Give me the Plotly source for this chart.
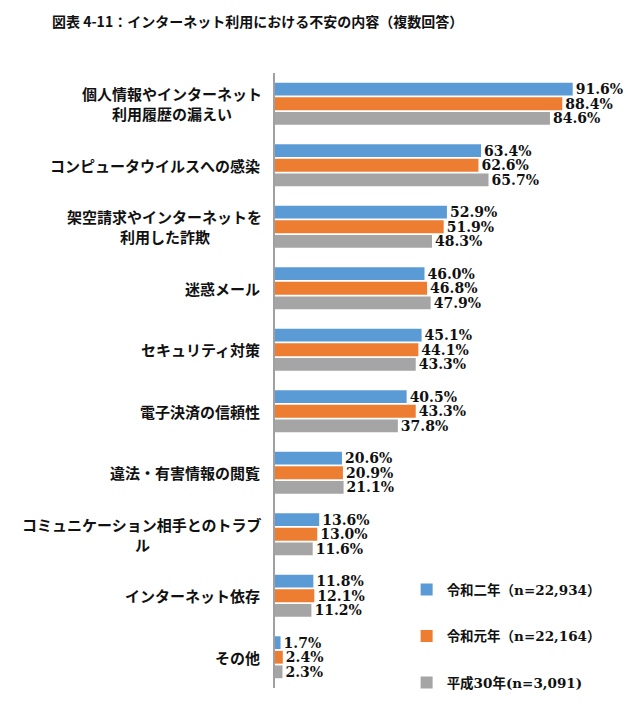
import plotly.graph_objects as go

categories = [
    "個人情報やインターネット<br>利用履歴の漏えい",
    "コンピュータウイルスへの感染",
    "架空請求やインターネットを<br>利用した詐欺",
    "迷惑メール",
    "セキュリティ対策",
    "電子決済の信頼性",
    "違法・有害情報の閲覧",
    "コミュニケーション相手とのトラブ<br>ル",
    "インターネット依存",
    "その他",
]
series_names = ["令和二年（n=22,934）", "令和元年（n=22,164）", "平成30年(n=3,091)"]
r2 = [91.6, 63.4, 52.9, 46.0, 45.1, 40.5, 20.6, 13.6, 11.8, 1.7]
r1 = [88.4, 62.6, 51.9, 46.8, 44.1, 43.3, 20.9, 13.0, 12.1, 2.4]
h30 = [84.6, 65.7, 48.3, 47.9, 43.3, 37.8, 21.1, 11.6, 11.2, 2.3]
colors = ["#5B9BD5", "#ED7D31", "#A5A5A5"]

ids = [f"c{i}" for i in range(len(categories))]
fig = go.Figure()
for name, vals, col in zip(series_names, [r2, r1, h30], colors):
    fig.add_trace(go.Bar(
        y=ids, x=vals, name=name, orientation="h",
        marker=dict(color=col, line=dict(width=0)),
        text=[f"{v:.1f}%" for v in vals], textposition="outside",
        constraintext="none",
        textfont=dict(family="DejaVu Serif", size=14, color="#111", weight="bold"),
        cliponaxis=False, legendgroup=name,
    ))

FS = 15
label_font = dict(family="Noto Sans CJK JP", size=FS, color="#111", weight="bold")
for cid, lab in zip(ids, categories):
    lines = lab.split("<br>")
    n = len(lines)
    if n == 1:
        fig.add_annotation(x=0, xref="paper", y=cid, yref="y", text=lines[0],
                           xanchor="right", yanchor="middle", xshift=-13,
                           showarrow=False, font=label_font)
    else:
        centre = -13 - len(lines[0]) * FS / 2
        for k, line in enumerate(lines):
            shift = (-(k - (n - 1) / 2)) * 20
            fig.add_annotation(x=0, xref="paper", y=cid, yref="y", text=line,
                               xanchor="center", yanchor="middle",
                               xshift=centre, yshift=shift, showarrow=False, font=label_font)

fig.add_annotation(x=(257 - 275) / 325, xref="paper", y=1.085, yref="paper", showarrow=False,
                   text="図表 4-11：インターネット利用における不安の内容（複数回答）",
                   xanchor="center", yanchor="middle",
                   font=dict(family="Noto Sans CJK JP", size=14, color="#111", weight="bold"))

fig.update_layout(
    width=628, height=710,
    margin=dict(l=275, r=28, t=73, b=20),
    paper_bgcolor="white", plot_bgcolor="white",
    barmode="group", bargap=0.29, bargroupgap=0.12,
    showlegend=True,
    legend=dict(x=0.405, y=0.185, xanchor="left", yanchor="top",
                tracegroupgap=26, itemsizing="constant", itemwidth=30,
                font=dict(family="DejaVu Serif, Noto Sans CJK JP", size=13.5, color="#111", weight="bold")),
    xaxis=dict(range=[0, 100], visible=False, fixedrange=True),
    yaxis=dict(autorange="reversed", showticklabels=False, showgrid=False,
               showline=True, linecolor="#A0A0A0", linewidth=1.5, ticks=""),
)
fig.write_html("out.html")
